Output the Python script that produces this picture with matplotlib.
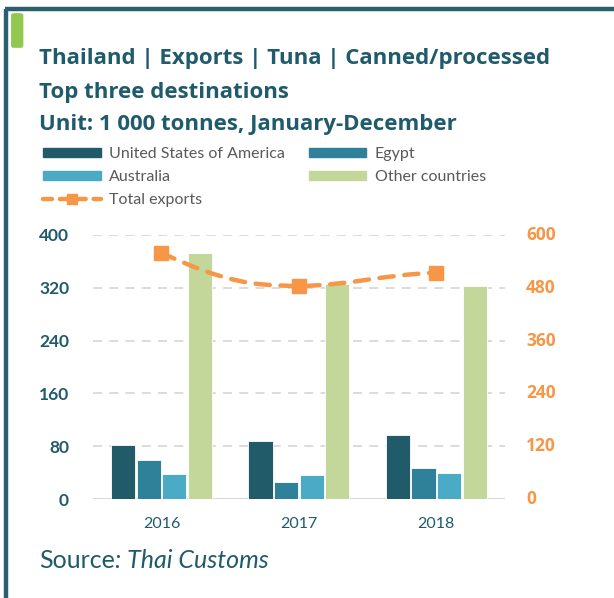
import matplotlib.pyplot as plt
import matplotlib.patches as mpatches
from matplotlib.path import Path
from matplotlib.lines import Line2D
import numpy as np

plt.rcParams["font.family"] = ["Lato", "DejaVu Sans"]

# data (1 000 tonnes)
years = ["2016", "2017", "2018"]
usa = [82, 88, 97]
egypt = [59, 26, 48]
australia = [38, 37, 40]
other = [372, 326, 322]
total = [559, 484, 514]
left_ticks = [0, 80, 160, 240, 320, 400]
right_ticks = [0, 120, 240, 360, 480, 600]

teal = "#1F5B6B"
orange = "#F79646"
colors = ["#215A69", "#2E8199", "#4BABC6", "#C4D79B"]
names = ["United States of America", "Egypt", "Australia", "Other countries"]

fig = plt.figure(figsize=(6.14, 5.98), dpi=100)

# frame
fig.add_artist(Line2D([0.0098, 0.0098], [0, 0.985], color="#2A5F70", lw=3.2,
                      transform=fig.transFigure, solid_capstyle="butt"))
fig.add_artist(Line2D([0.0075, 1.0], [0.985, 0.985], color="#2A5F70", lw=3.2,
                      transform=fig.transFigure, solid_capstyle="butt"))
fig.add_artist(mpatches.FancyBboxPatch((0.018, 0.920), 0.020, 0.058,
                                       boxstyle="round,pad=0,rounding_size=0.004",
                                       transform=fig.transFigure, color="#92C84F", lw=0))

# titles
tfont = dict(fontsize=16.0, fontweight="bold", color=teal, va="center",
             family=["Open Sans", "DejaVu Sans"])
fig.text(0.064, 0.902, "Thailand | Exports | Tuna | Canned/processed", **tfont)
fig.text(0.064, 0.846, "Top three destinations", **tfont)
fig.text(0.064, 0.792, "Unit: 1 000 tonnes, January-December", **tfont)

ax = fig.add_axes([0.151, 0.165, 0.6715, 0.4425])
ax2 = ax.twinx()

x = np.arange(len(years))
w = 0.176
series = [usa, egypt, australia, other]
for i, vals in enumerate(series):
    ax.bar(x + (i - 1.5) * (w + 0.01), vals, w, color=colors[i], edgecolor="white",
           linewidth=0.6, zorder=3, label=names[i])

ax.set_xlim(-0.5, 2.5)
ax.set_ylim(0, 400)
ax.set_yticks(left_ticks)
ax.yaxis.grid(True, color="#D9D9D9", linestyle=(0, (5, 4)), lw=1.3)
ax.set_axisbelow(True)
for s in ax.spines.values():
    s.set_visible(False)
for s in ax2.spines.values():
    s.set_visible(False)
ax.axhline(0, color="#D9D9D9", lw=1.5, zorder=2)
ax.tick_params(axis="y", length=0, pad=17, labelsize=12.5, labelcolor=teal)
ax.tick_params(axis="x", length=0, pad=13, labelsize=11.5, labelcolor=teal)
ax.set_xticks(x)
ax.set_xticklabels(years)

# right axis: labels written as text so they stay bold
ax2.set_ylim(0, 600)
ax2.set_yticks(right_ticks)
ax2.tick_params(axis="y", length=0, labelright=False)
for v in right_ticks:
    ax2.text(1.051, v, str(v), transform=ax2.get_yaxis_transform(), ha="left",
             va="center", fontsize=12.5, fontweight="bold", color=orange,
             family=["Open Sans", "DejaVu Sans"])

# smoothed total line through the yearly points
verts = [(x[0], total[0]), (x[0] + 0.45, total[1] + 10), (x[1] - 0.35, total[1]), (x[1], total[1]),
         (x[1] + 0.35, total[1]), (x[2] - 0.4, total[2] - 5), (x[2], total[2])]
codes = [Path.MOVETO] + [Path.CURVE4] * 6
ax2.add_patch(mpatches.PathPatch(Path(verts, codes), fill=False, edgecolor=orange, lw=3.2,
                                 linestyle=(0, (3.2, 2.4)), capstyle="round", zorder=4))
ax2.plot(x, total, linestyle="none", marker="s", markersize=10, color=orange, zorder=5,
         label="Total exports")

# legend (column-major order)
handles = [mpatches.Patch(color=c) for c in colors]
lh = Line2D([], [], color=orange, lw=3.2, linestyle=(0, (2, 1.8)), marker="s",
            markersize=7, dash_capstyle="round")
leg = fig.legend([handles[0], handles[2], lh, handles[1], handles[3]],
                 [names[0], names[2], "Total exports", names[1], names[3]],
                 loc="upper left", bbox_to_anchor=(0.047, 0.778), ncol=2, frameon=False,
                 fontsize=11.5, handlelength=3.6, handleheight=0.5, handletextpad=0.52,
                 columnspacing=1.5, labelspacing=0.56, labelcolor="#595959")

# source line
fig.canvas.draw()
r = fig.canvas.get_renderer()
s1 = fig.text(0.064, 0.062, "Source", fontsize=18, color=teal, va="center")
bb = s1.get_window_extent(renderer=r)
fig.text(bb.x1 / fig.bbox.width, 0.062, ": Thai Customs", fontsize=18, color=teal,
         va="center", style="italic")

plt.setp(ax.get_yticklabels(), fontweight="bold")

fig.savefig("out.png", dpi=100)
